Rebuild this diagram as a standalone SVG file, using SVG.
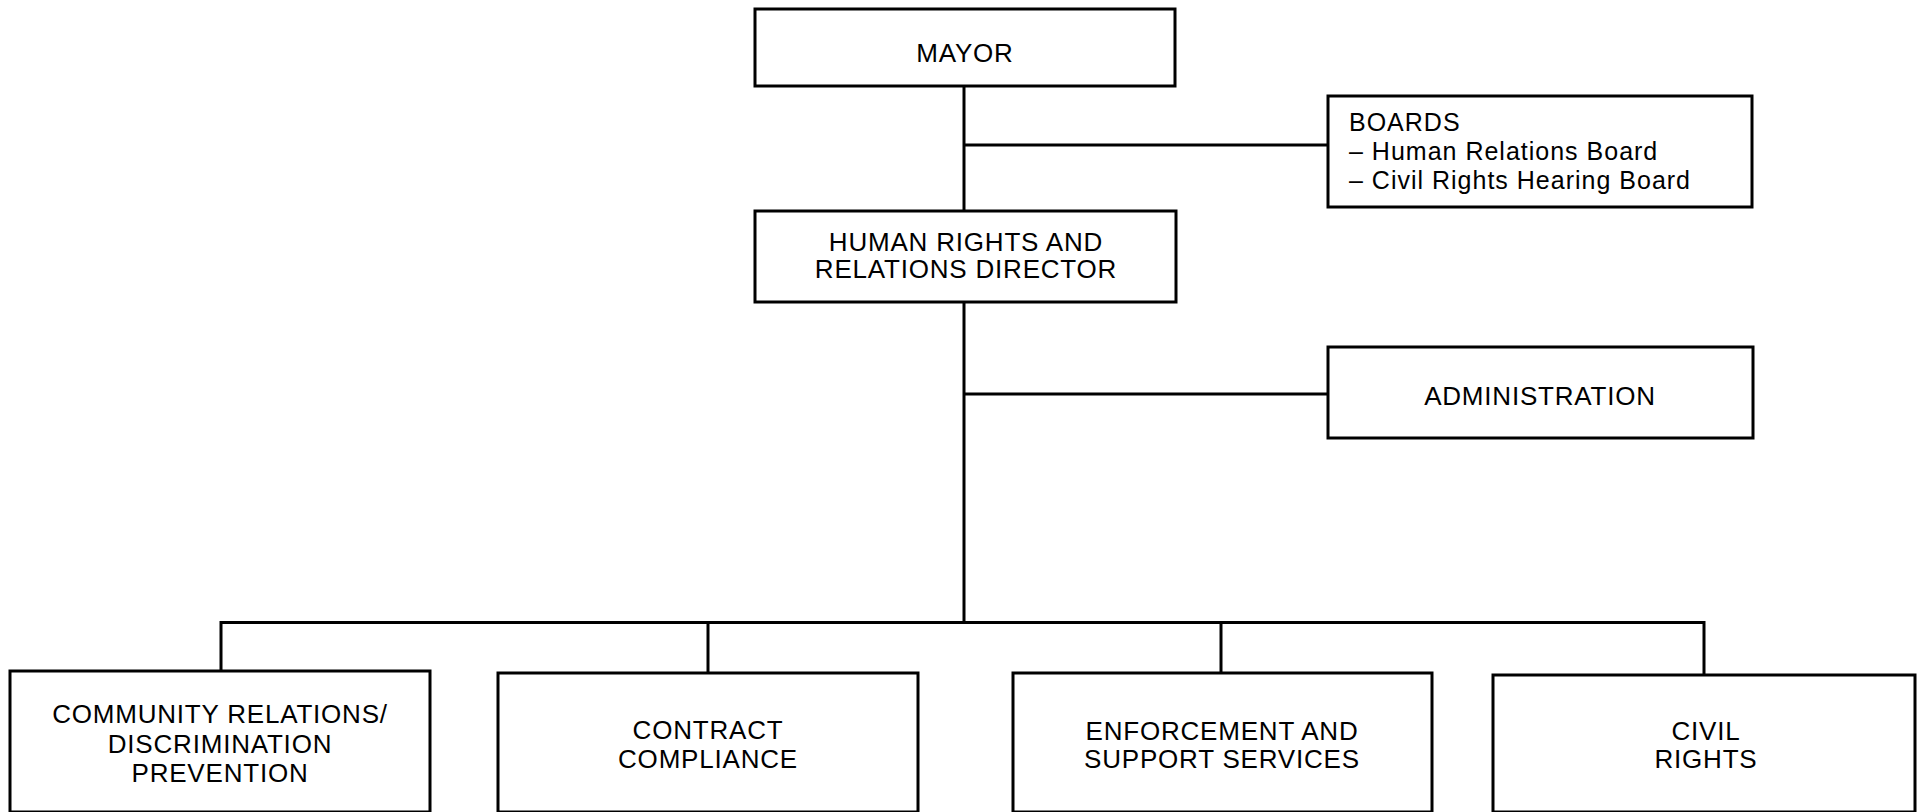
<svg xmlns="http://www.w3.org/2000/svg" width="1921" height="812" viewBox="0 0 1921 812">
<style>
.box{fill:#fff;stroke:#000;stroke-width:3}
.ln{fill:none;stroke:#000;stroke-width:3}
text{font-family:"Liberation Sans",Arial,Helvetica,sans-serif;font-size:26px;fill:#000;letter-spacing:0.8px}
.c{text-anchor:middle}
.b{font-size:25px;letter-spacing:1px}
</style>
<rect x="0" y="0" width="1921" height="812" fill="#fff"/>
<g id="connectors">
<path class="ln" d="M964 86V211"/>
<path class="ln" d="M964 302V622"/>
<path class="ln" d="M964 145H1328"/>
<path class="ln" d="M964 394H1328"/>
<path class="ln" d="M221 671V622.5H1704V675"/>
<path class="ln" d="M708 622.5V673"/>
<path class="ln" d="M1221 622.5V673"/>
</g>
<g id="mayor">
<rect class="box" x="755" y="9" width="420" height="77"/>
<text class="c" x="965" y="62">MAYOR</text>
</g>
<g id="boards">
<rect class="box" x="1328" y="96" width="424" height="111"/>
<text class="b" x="1349" y="131">BOARDS</text>
<text class="b" x="1349" y="160">– Human Relations Board</text>
<text class="b" x="1349" y="189">– Civil Rights Hearing Board</text>
</g>
<g id="director">
<rect class="box" x="755" y="211" width="421" height="91"/>
<text class="c" x="966" y="251">HUMAN RIGHTS AND</text>
<text class="c" x="966" y="278">RELATIONS DIRECTOR</text>
</g>
<g id="administration">
<rect class="box" x="1328" y="347" width="425" height="91"/>
<text class="c" x="1540" y="405">ADMINISTRATION</text>
</g>
<g id="community">
<rect class="box" x="10" y="671" width="420" height="141"/>
<text class="c" x="220" y="723">COMMUNITY RELATIONS/</text>
<text class="c" x="220" y="753">DISCRIMINATION</text>
<text class="c" x="220" y="782">PREVENTION</text>
</g>
<g id="contract">
<rect class="box" x="498" y="673" width="420" height="139"/>
<text class="c" x="708" y="739">CONTRACT</text>
<text class="c" x="708" y="768">COMPLIANCE</text>
</g>
<g id="enforcement">
<rect class="box" x="1013" y="673" width="419" height="139"/>
<text class="c" x="1222" y="740">ENFORCEMENT AND</text>
<text class="c" x="1222" y="768">SUPPORT SERVICES</text>
</g>
<g id="civilrights">
<rect class="box" x="1493" y="675" width="422" height="137"/>
<text class="c" x="1706" y="740">CIVIL</text>
<text class="c" x="1706" y="768">RIGHTS</text>
</g>
</svg>
